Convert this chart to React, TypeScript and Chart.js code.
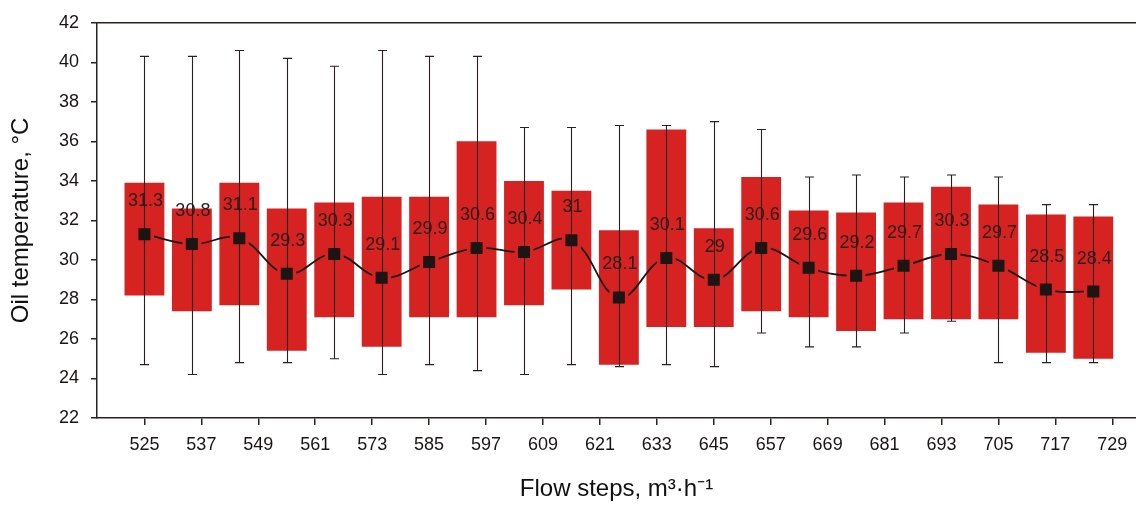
import React, { useEffect, useRef } from 'react';
import { Chart, registerables } from 'chart.js';

Chart.register(...registerables);

// Flow steps (m³·h⁻¹) where each box is placed
const flowSteps = [525, 535, 545, 555, 565, 575, 585, 595, 605, 615, 625, 635, 645, 655, 665, 675, 685, 695, 705, 715, 725];
// Mean oil temperature (°C)
const meanTemp = [31.3, 30.8, 31.1, 29.3, 30.3, 29.1, 29.9, 30.6, 30.4, 31, 28.1, 30.1, 29, 30.6, 29.6, 29.2, 29.7, 30.3, 29.7, 28.5, 28.4];
// Box (red bar) lower and upper bounds
const boxLow = [28.2, 27.4, 27.7, 25.4, 27.1, 25.6, 27.1, 27.1, 27.7, 28.5, 24.7, 26.6, 26.6, 27.4, 27.1, 26.4, 27.0, 27.0, 27.0, 25.3, 25.0];
const boxHigh = [33.9, 32.6, 33.9, 32.6, 32.9, 33.2, 33.2, 36.0, 34.0, 33.5, 31.5, 36.6, 31.6, 34.2, 32.5, 32.4, 32.9, 33.7, 32.8, 32.3, 32.2];
// Whisker min / max
const whiskerLow = [24.7, 24.2, 24.8, 24.8, 25.0, 24.2, 24.7, 24.4, 24.2, 24.7, 24.6, 24.7, 24.6, 26.3, 25.6, 25.6, 26.3, 26.9, 24.8, 24.8, 24.8];
const whiskerHigh = [40.3, 40.3, 40.6, 40.2, 39.8, 40.6, 40.3, 40.3, 36.7, 36.7, 36.8, 36.8, 37.0, 36.6, 34.2, 34.3, 34.2, 34.3, 34.2, 32.8, 32.8];
// Axis tick labels
const xTickLabels = [525, 537, 549, 561, 573, 585, 597, 609, 621, 633, 645, 657, 669, 681, 693, 705, 717, 729];
const yTickLabels = [22, 24, 26, 28, 30, 32, 34, 36, 38, 40, 42];

const AXIS = '#2a2221';
const RED = 'rgb(214,34,33)';
const INK = '#1c1514';
const FONT = '"Liberation Sans", Arial, Helvetica, sans-serif';

const overlayPlugin = {
  id: 'overlay',
  beforeDatasetDraw(chart: any, args: any) {
    if (args.index === 1) {
      const ctx = chart.ctx;
      const xs = chart.scales.x;
      const ys = chart.scales.y;
      ctx.save();
      ctx.beginPath();
      ctx.rect(0, 0, chart.width, chart.height);
      flowSteps.forEach((f, i) => {
        const px = xs.getPixelForValue(f);
        const py = ys.getPixelForValue(meanTemp[i]);
        ctx.rect(px - 9.5, py - 9.5, 19, 19);
      });
      ctx.clip('evenodd');
    }
  },
  afterDatasetDraw(chart: any, args: any) {
    const ctx = chart.ctx;
    if (args.index === 1) {
      ctx.restore();
    }
    if (args.index === 0) {
      const xs = chart.scales.x;
      const ys = chart.scales.y;
      ctx.save();
      ctx.strokeStyle = '#2b2020';
      ctx.lineWidth = 1.1;
      flowSteps.forEach((f, i) => {
        const px = Math.round(xs.getPixelForValue(f)) + 0.5;
        const y1 = ys.getPixelForValue(whiskerLow[i]);
        const y2 = ys.getPixelForValue(whiskerHigh[i]);
        ctx.beginPath();
        ctx.moveTo(px, y1);
        ctx.lineTo(px, y2);
        ctx.moveTo(px - 4.5, y1);
        ctx.lineTo(px + 4.5, y1);
        ctx.moveTo(px - 4.5, y2);
        ctx.lineTo(px + 4.5, y2);
        ctx.stroke();
      });
      ctx.restore();
    }
  },
  afterDatasetsDraw(chart: any) {
    const ctx = chart.ctx;
    const xs = chart.scales.x;
    const ys = chart.scales.y;
    ctx.save();
    ctx.font = `18px ${FONT}`;
    ctx.fillStyle = '#2a1c1c';
    ctx.textAlign = 'center';
    ctx.textBaseline = 'middle';
    flowSteps.forEach((f, i) => {
      const px = xs.getPixelForValue(f);
      const py = ys.getPixelForValue(meanTemp[i]);
      ctx.fillText(String(meanTemp[i]), px + 1, py - 33);
    });
    ctx.restore();
  },
  afterDraw(chart: any) {
    const ctx = chart.ctx;
    const a = chart.chartArea;
    ctx.save();
    ctx.strokeStyle = AXIS;
    ctx.lineWidth = 1.5;
    ctx.beginPath();
    ctx.moveTo(a.left, a.top);
    ctx.lineTo(chart.width, a.top);
    ctx.stroke();
    ctx.restore();
  },
};

export default function App() {
  const ref = useRef<HTMLCanvasElement | null>(null);

  useEffect(() => {
    if (!ref.current) return;
    Chart.defaults.font.family = FONT;
    const chart = new Chart(ref.current, {
      type: 'bar',
      data: {
        datasets: [
          {
            type: 'bar',
            label: 'Range',
            data: flowSteps.map((f, i) => ({ x: f, y: [boxLow[i], boxHigh[i]] })) as any,
            backgroundColor: RED,
            borderWidth: 0,
            barPercentage: 0.84,
            categoryPercentage: 1,
            order: 3,
          },
          {
            type: 'line',
            label: 'Mean line',
            data: flowSteps.map((f, i) => ({ x: f, y: meanTemp[i] })),
            borderColor: INK,
            borderWidth: 1.8,
            tension: 0.4,
            pointRadius: 0,
            fill: false,
            order: 2,
          },
          {
            type: 'line',
            label: 'Mean',
            data: flowSteps.map((f, i) => ({ x: f, y: meanTemp[i] })),
            showLine: false,
            pointStyle: 'rect',
            pointRadius: 8.5,
            backgroundColor: INK,
            borderColor: INK,
            borderWidth: 0,
            order: 1,
          } as any,
        ],
      },
      options: {
        responsive: false,
        animation: false,
        layout: { autoPadding: false, padding: { top: 16, left: 0, right: 0, bottom: 0 } },
        plugins: {
          legend: { display: false },
          tooltip: { enabled: false },
        },
        scales: {
          x: {
            type: 'linear',
            min: 515,
            max: 734,
            offset: false,
            afterBuildTicks: (scale: any) => {
              scale.ticks = xTickLabels.map((v) => ({ value: v }));
            },
            afterFit: (scale: any) => {
              scale.height = 87;
              scale.paddingRight = 0;
            },
            ticks: {
              font: { size: 18 },
              color: '#1a1414',
              padding: 9,
              maxRotation: 0,
              autoSkip: false,
              callback: (v: any) => String(v),
            },
            grid: {
              display: true,
              offset: false,
              drawOnChartArea: false,
              drawTicks: true,
              tickLength: 7,
              color: AXIS,
              lineWidth: 1.5,
            },
            border: { display: true, color: AXIS, width: 1.5 },
            title: {
              display: true,
              text: 'Flow steps, m³·h⁻¹',
              font: { size: 24 },
              color: '#111',
              padding: { top: 4, bottom: 1 },
            },
          },
          y: {
            type: 'linear',
            min: 22,
            max: 42,
            afterBuildTicks: (scale: any) => {
              scale.ticks = yTickLabels.map((v) => ({ value: v }));
            },
            afterFit: (scale: any) => {
              scale.width = 97;
            },
            ticks: {
              font: { size: 18 },
              color: '#1a1414',
              padding: 12,
              callback: (v: any) => String(v),
            },
            grid: {
              display: true,
              drawOnChartArea: false,
              drawTicks: true,
              tickLength: 6,
              color: AXIS,
              lineWidth: 1.5,
            },
            border: { display: true, color: AXIS, width: 1.5 },
            title: {
              display: true,
              text: 'Oil temperature, °C',
              font: { size: 24 },
              color: '#111',
              padding: { top: 7, bottom: 4 },
            },
          },
        },
      },
      plugins: [overlayPlugin],
    });
    return () => chart.destroy();
  }, []);

  return (
    <div style={{ position: 'absolute', left: 0, top: 0, width: 1136, height: 505, background: '#fff' }}>
      <canvas ref={ref} width={1136} height={505} style={{ display: 'block' }} />
    </div>
  );
}
